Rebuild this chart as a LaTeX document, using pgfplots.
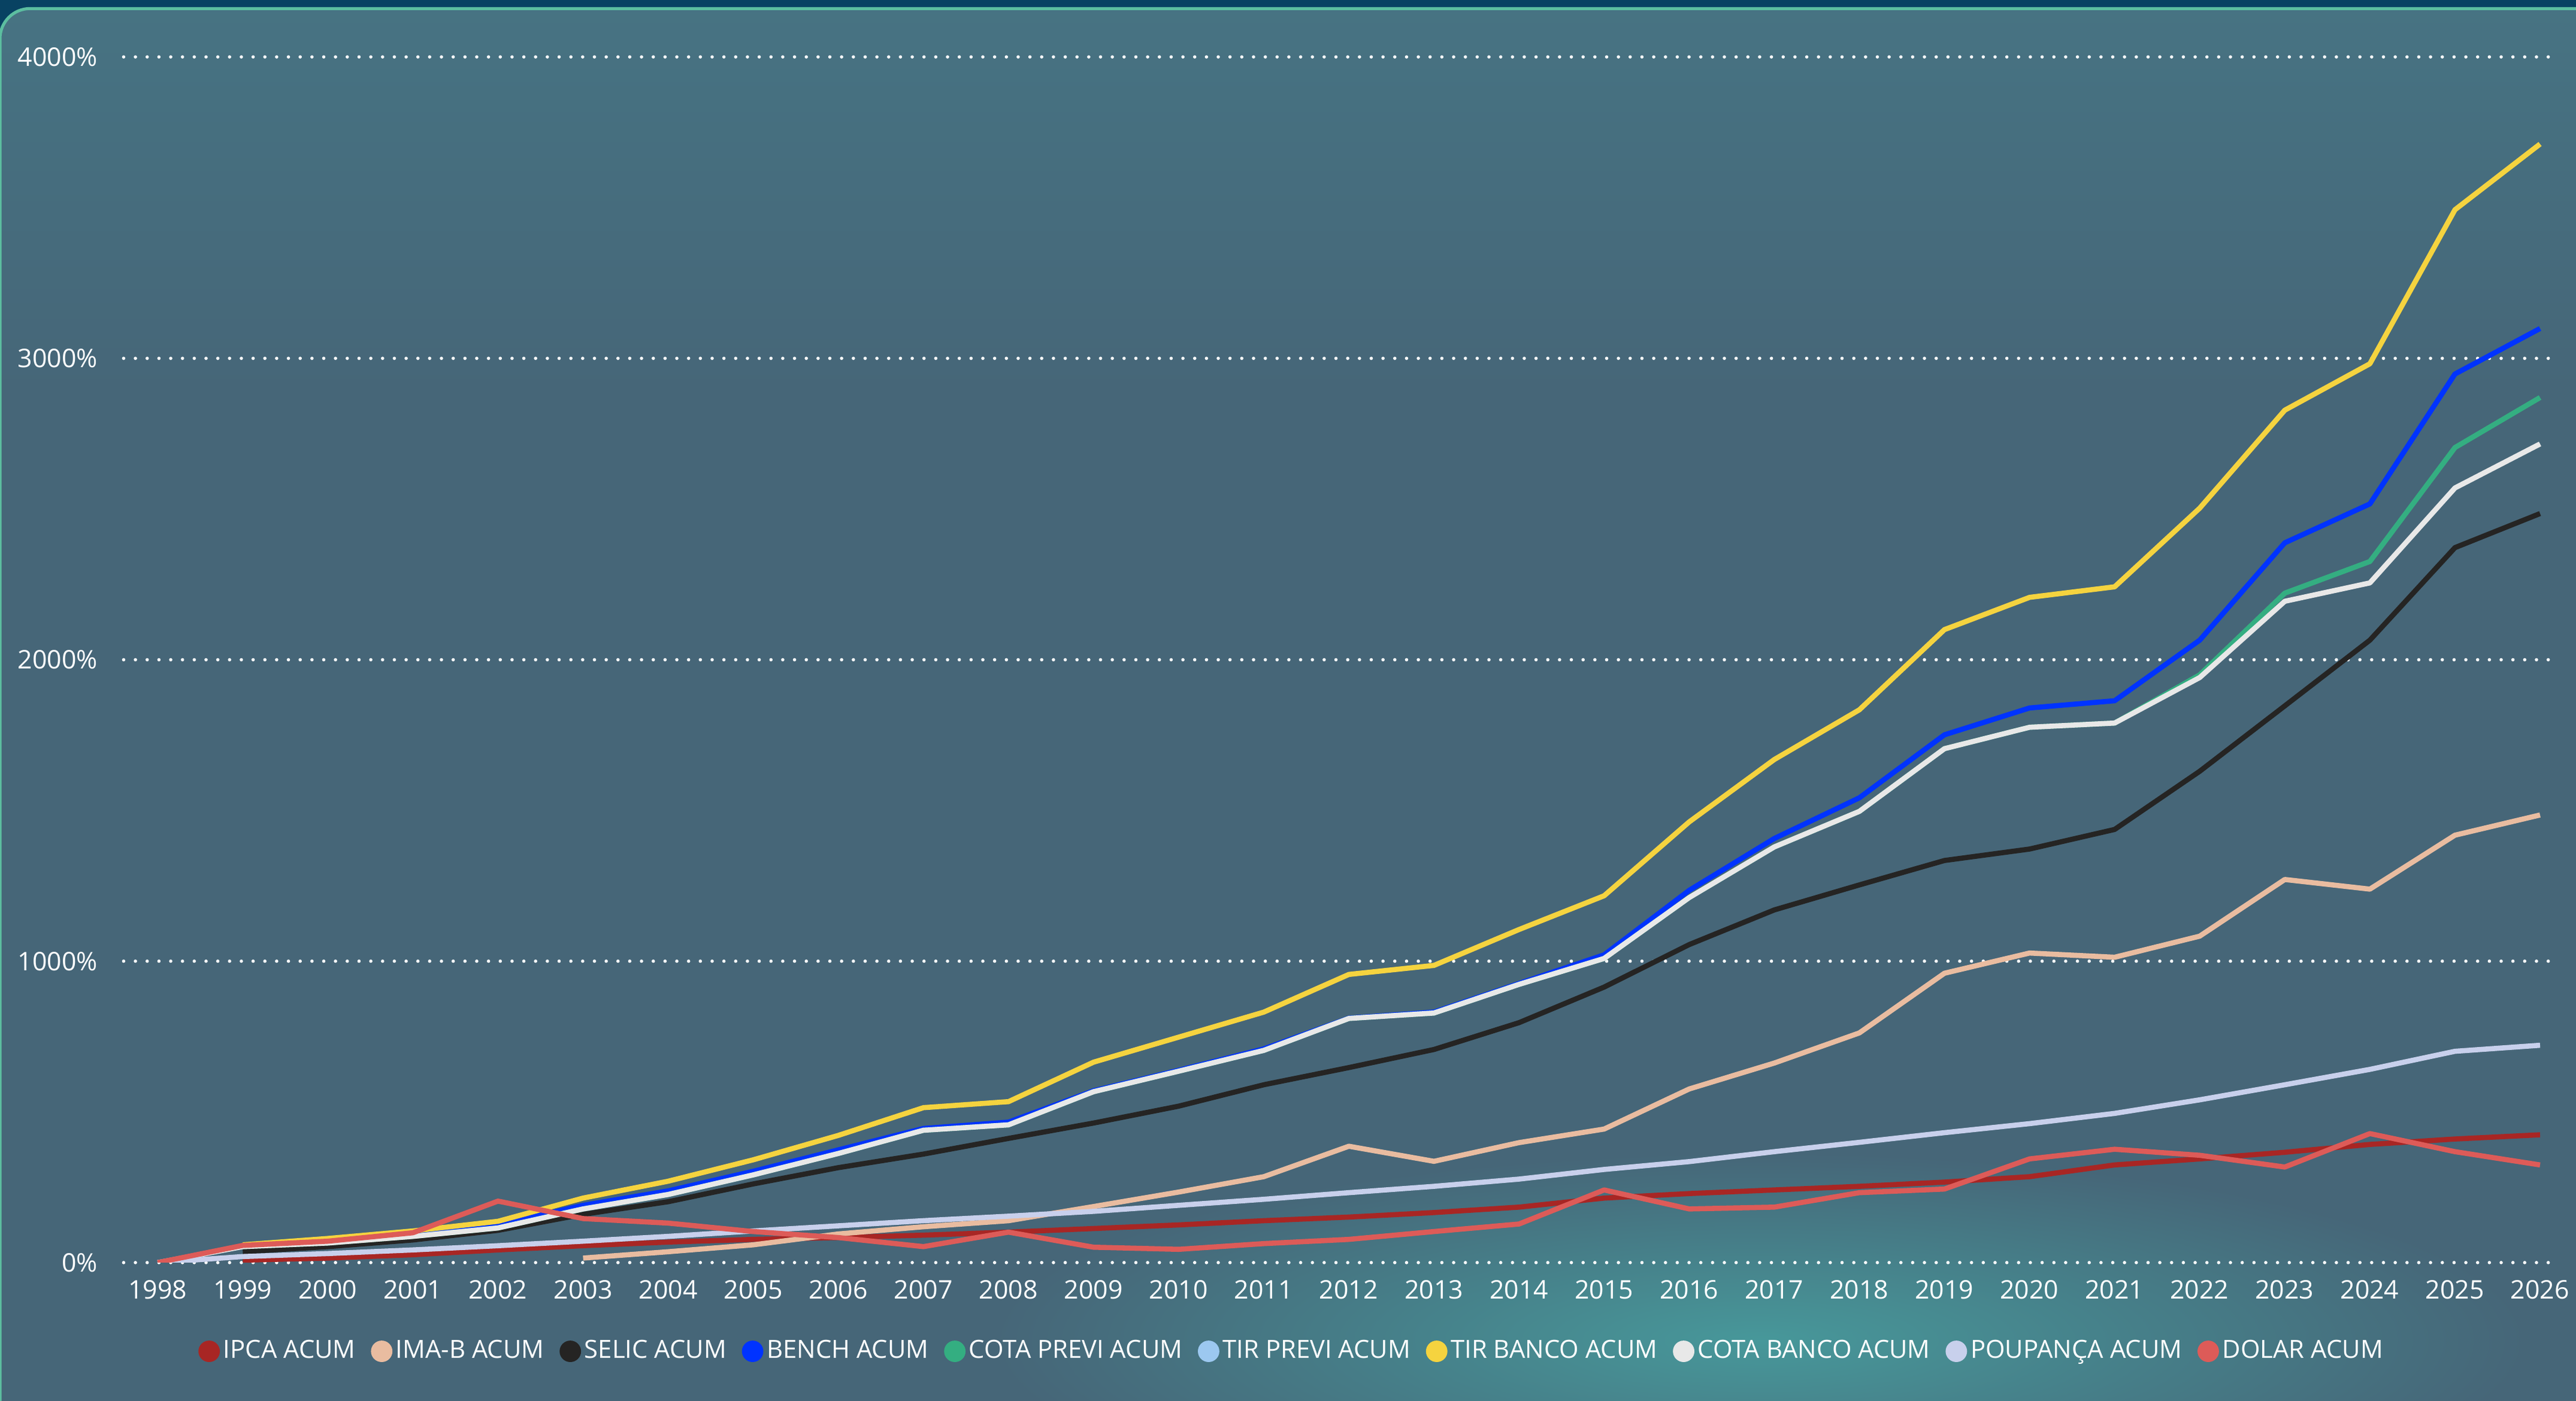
\documentclass[border=0pt]{standalone}
\usepackage{fontspec}
\setmainfont{Open Sans}
\usepackage{pgfplots}
\pgfplotsset{compat=1.18}
\usetikzlibrary{fadings}

\definecolor{cIpca}{RGB}{168,38,36}
\definecolor{cImab}{RGB}{233,188,160}
\definecolor{cSelic}{RGB}{37,36,35}
\definecolor{cBench}{RGB}{0,51,255}
\definecolor{cCotaPrevi}{RGB}{52,174,129}
\definecolor{cTirPrevi}{RGB}{156,200,240}
\definecolor{cTirBanco}{RGB}{245,211,63}
\definecolor{cCotaBanco}{RGB}{232,232,232}
\definecolor{cPoup}{RGB}{200,208,236}
\definecolor{cDolar}{RGB}{221,91,88}
\definecolor{cTop}{RGB}{72,146,154}
\definecolor{cUpper}{RGB}{71,124,138}
\definecolor{cMid}{RGB}{70,102,120}
\definecolor{cBot}{RGB}{66,108,122}
\definecolor{cBand}{RGB}{8,66,98}
\definecolor{cBorder}{RGB}{92,190,160}
\definecolor{cGlow}{RGB}{72,165,163}

\pgfdeclareverticalshading{card}{100bp}{color(0bp)=(cBot); color(18bp)=(cMid); color(62bp)=(cMid); color(84bp)=(cUpper); color(100bp)=(cTop)}
\tikzfading[name=glowfade, inner color=transparent!0, outer color=transparent!100]

\begin{document}
\begin{tikzpicture}
\useasboundingbox (0,0) rectangle (30cm,16.31cm);
\fill[cBand] (0,0) rectangle (30cm,16.31cm);
\shade[shading=card, draw=cBorder, line width=1pt, rounded corners=0.35cm] (0,-1cm) rectangle (31cm,16.21cm);
\fill[cGlow, path fading=glowfade, opacity=0.8] (20.5cm,0.7cm) ellipse (9cm and 2.2cm);

\begin{axis}[
  at={(1.44cm,1.607cm)}, anchor=south west, scale only axis,
  width=28.24cm, height=14.04cm,
  xmin=1997.6, xmax=2026.1, ymin=0, ymax=4000,
  axis line style={draw=none}, major tick length=0pt,
  xtick={1998,...,2026}, ytick={0,1000,...,4000},
  ymajorgrids,
  grid style={white, line width=1.1pt, dash pattern=on 0pt off 3.9pt, line cap=round},
  tick label style={white, font=\fontsize{8.5}{10}\selectfont},
  /pgf/number format/assume math mode=true,
  xticklabel={\pgfmathprintnumber[fixed,precision=0,1000 sep={}]{\tick}},
  yticklabel={\pgfmathprintnumber[fixed,precision=0,1000 sep={}]{\tick}\%},
  xticklabel style={yshift=-0.08cm},
  yticklabel style={xshift=-0.18cm},
  every axis plot/.append style={line width=1.7pt, line join=round, no marks},
  legend columns=10,
  legend image code/.code={\fill[#1, draw=none] (0.12cm,0cm) circle (0.125cm);},
  legend style={at={(axis description cs:0.482,-0.0736)}, anchor=center,
    draw=none, fill=none, font=\color{white}\fontsize{8.3}{10}\selectfont,
    nodes={inner sep=0.04cm},
    /tikz/every even column/.append style={column sep=0.14cm}},
]
% IPCA ACUM
\addplot[cIpca] coordinates {
(1999,8)(2000,15)(2001,26)(2002,42)(2003,56)(2004,68)(2005,77)(2006,83)(2007,91)
(2008,101)(2009,113)(2010,125)(2011,139)(2012,151)(2013,166)(2014,184)(2015,214)
(2016,229)(2017,241)(2018,253)(2019,267)(2020,285)(2021,324)(2022,344)(2023,366)
(2024,392)(2025,410)(2026,424)};
\addlegendentry{IPCA ACUM}
% IMA-B ACUM
\addplot[cImab] coordinates {
(2003,15)(2004,36)(2005,59)(2006,95)(2007,119)(2008,139)(2009,186)(2010,234)
(2011,285)(2012,386)(2013,336)(2014,398)(2015,443)(2016,576)(2017,662)(2018,762)
(2019,960)(2020,1027)(2021,1013)(2022,1083)(2023,1271)(2024,1239)(2025,1418)(2026,1485)};
\addlegendentry{IMA-B ACUM}
% SELIC ACUM
\addplot[cSelic] coordinates {
(1999,36)(2000,53)(2001,75)(2002,107)(2003,160)(2004,202)(2005,261)(2006,315)
(2007,360)(2008,412)(2009,463)(2010,519)(2011,590)(2012,647)(2013,707)(2014,796)
(2015,914)(2016,1055)(2017,1170)(2018,1253)(2019,1334)(2020,1372)(2021,1437)
(2022,1630)(2023,1847)(2024,2065)(2025,2372)(2026,2485)};
\addlegendentry{SELIC ACUM}
% BENCH ACUM
\addplot[cBench] coordinates {
(1999,55)(2000,68)(2001,92)(2002,125)(2003,190)(2004,238)(2005,303)(2006,374)
(2007,445)(2008,466)(2009,570)(2010,638)(2011,709)(2012,811)(2013,831)(2014,926)
(2015,1021)(2016,1235)(2017,1407)(2018,1542)(2019,1751)(2020,1840)(2021,1864)
(2022,2065)(2023,2388)(2024,2517)(2025,2948)(2026,3099)};
\addlegendentry{BENCH ACUM}
% COTA PREVI ACUM
\addplot[cCotaPrevi] coordinates {
(1999,53)(2000,65)(2001,87)(2002,115)(2003,178)(2004,226)(2005,291)(2006,362)
(2007,439)(2008,457)(2009,567)(2010,635)(2011,704)(2012,810)(2013,828)(2014,923)
(2015,1009)(2016,1211)(2017,1379)(2018,1497)(2019,1705)(2020,1776)(2021,1790)
(2022,1950)(2023,2221)(2024,2326)(2025,2704)(2026,2870)};
\addlegendentry{COTA PREVI ACUM}
% TIR PREVI ACUM (no visible line)
\addlegendimage{cTirPrevi}
\addlegendentry{TIR PREVI ACUM}
% TIR BANCO ACUM
\addplot[cTirBanco] coordinates {
(1999,59)(2000,80)(2001,105)(2002,137)(2003,214)(2004,270)(2005,341)(2006,422)
(2007,514)(2008,534)(2009,665)(2010,748)(2011,831)(2012,956)(2013,986)(2014,1105)
(2015,1217)(2016,1462)(2017,1669)(2018,1834)(2019,2100)(2020,2207)(2021,2242)
(2022,2503)(2023,2828)(2024,2982)(2025,3493)(2026,3711)};
\addlegendentry{TIR BANCO ACUM}
% COTA BANCO ACUM
\addplot[cCotaBanco] coordinates {
(1998,0)(1999,53)(2000,65)(2001,87)(2002,115)(2003,178)(2004,226)(2005,291)(2006,362)
(2007,439)(2008,457)(2009,567)(2010,635)(2011,704)(2012,810)(2013,828)(2014,923)
(2015,1009)(2016,1211)(2017,1379)(2018,1497)(2019,1705)(2020,1776)(2021,1790)
(2022,1941)(2023,2194)(2024,2255)(2025,2570)(2026,2716)};
\addlegendentry{COTA BANCO ACUM}
% POUPANÇA ACUM
\addplot[cPoup] coordinates {
(1998,0)(1999,20)(2000,30)(2001,42)(2002,56)(2003,71)(2004,87)(2005,105)(2006,122)
(2007,139)(2008,154)(2009,170)(2010,190)(2011,210)(2012,232)(2013,253)(2014,277)
(2015,309)(2016,335)(2017,368)(2018,399)(2019,431)(2020,461)(2021,495)(2022,540)
(2023,590)(2024,641)(2025,701)(2026,721)};
\addlegendentry{POUPANÇA ACUM}
% DOLAR ACUM
\addplot[cDolar] coordinates {
(1998,0)(1999,57)(2000,71)(2001,99)(2002,204)(2003,146)(2004,131)(2005,103)(2006,83)
(2007,53)(2008,101)(2009,51)(2010,44)(2011,63)(2012,77)(2013,103)(2014,128)
(2015,241)(2016,178)(2017,184)(2018,232)(2019,244)(2020,344)(2021,376)(2022,356)
(2023,317)(2024,428)(2025,368)(2026,324)};
\addlegendentry{DOLAR ACUM}
\end{axis}
\end{tikzpicture}
\end{document}
